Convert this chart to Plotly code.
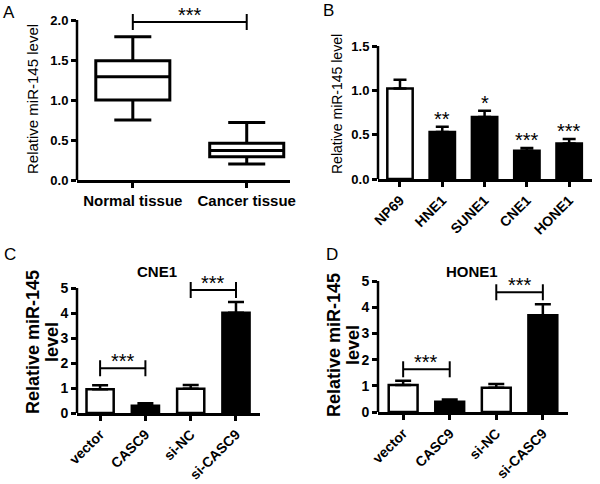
import plotly.graph_objects as go

W, H = 600, 484
FONT = "Liberation Sans, Arial, Helvetica, sans-serif"

# ---------------- Data ----------------
# Panel A (box plot)
a_cats = ["Normal tissue", "Cancer tissue"]
a_lowerfence = [0.75, 0.20]
a_q1 = [1.00, 0.29]
a_median = [1.29, 0.37]
a_q3 = [1.49, 0.46]
a_upperfence = [1.79, 0.72]
a_brackets = [(0, 1, 1.975, "***")]
a_yticks = [0.0, 0.5, 1.0, 1.5, 2.0]
a_yticklabels = ["0.0", "0.5", "1.0", "1.5", "2.0"]

# Panel B
b_cats = ["NP69", "HNE1", "SUNE1", "CNE1", "HONE1"]
b_vals = [1.02, 0.53, 0.70, 0.32, 0.40]
b_errtop = [1.12, 0.59, 0.77, 0.35, 0.45]
b_stars = ["", "**", "*", "***", "***"]
b_fill = ["white", "black", "black", "black", "black"]
b_yticks = [0.0, 0.5, 1.0, 1.5]
b_yticklabels = ["0.0", "0.5", "1.0", "1.5"]

# Panels C and D
cd_cats = ["vector", "CASC9", "si-NC", "si-CASC9"]
cd_fill = ["white", "black", "white", "black"]
cd_yticks = [0, 1, 2, 3, 4, 5]
c_vals = [0.95, 0.29, 0.97, 4.01]
c_errtop = [1.11, 0.39, 1.12, 4.44]
c_brackets = [(0, 1, 1.79, "***"), (2, 3, 4.92, "***")]
d_vals = [1.03, 0.39, 0.93, 3.69]
d_errtop = [1.19, 0.48, 1.07, 4.11]
d_brackets = [(0, 1, 1.63, "***"), (2, 3, 4.57, "***")]

# ---------------- Layout geometry (pixels) ----------------
panels = {
    "A": dict(x0=77, x1=290, y0=180, yt=20, top=2.0, ytop=4, xr=[-0.49, 1.38]),
    "B": dict(x0=378, x1=592, y0=179, yt=46, top=1.5, ytop=40, xr=[-0.52, 4.54]),
    "C": dict(x0=77, x1=260, y0=413, yt=288, top=5.0, ytop=272, xr=[-0.51, 3.53]),
    "D": dict(x0=378, x1=568, y0=412, yt=281, top=5.0, ytop=272, xr=[-0.54, 3.54]),
}
for p in panels.values():
    p["ppu"] = (p["y0"] - p["yt"]) / p["top"]
    p["yr"] = [0, (p["y0"] - p["ytop"]) / p["ppu"]]
    p["xdom"] = [p["x0"] / W, p["x1"] / W]
    p["ydom"] = [1 - p["y0"] / H, 1 - p["ytop"] / H]

LW = 2.5
fig = go.Figure()

# Panel A
fig.add_trace(go.Box(
    x=a_cats, q1=a_q1, median=a_median, q3=a_q3,
    lowerfence=a_lowerfence, upperfence=a_upperfence,
    width=0.65, whiskerwidth=0.5, boxpoints=False,
    line=dict(color="black", width=3), fillcolor="white",
    xaxis="x", yaxis="y", hoverinfo="skip"))

def bar_trace(cats, vals, errtop, fills, width, capw, xa, ya):
    return go.Bar(
        x=cats, y=vals, width=width,
        marker=dict(color=fills, line=dict(color="black", width=LW)),
        error_y=dict(type="data", symmetric=False,
                     array=[e - v for e, v in zip(errtop, vals)],
                     arrayminus=[0] * len(vals),
                     color="black", thickness=LW, width=capw),
        xaxis=xa, yaxis=ya, hoverinfo="skip")

fig.add_trace(bar_trace(b_cats, b_vals, b_errtop, b_fill, 0.60, 6.5, "x2", "y2"))
fig.add_trace(bar_trace(cd_cats, c_vals, c_errtop, cd_fill, 0.60, 8, "x3", "y3"))
fig.add_trace(bar_trace(cd_cats, d_vals, d_errtop, cd_fill, 0.62, 8, "x4", "y4"))

axis_ids = {"A": ("x", "y"), "B": ("x2", "y2"), "C": ("x3", "y3"), "D": ("x4", "y4")}
ytick_info = {
    "A": (a_yticks, a_yticklabels, 13),
    "B": (b_yticks, b_yticklabels, 13),
    "C": (cd_yticks, [str(v) for v in cd_yticks], 14),
    "D": (cd_yticks, [str(v) for v in cd_yticks], 14),
}
xtick_font = {"A": 15, "B": 14, "C": 14, "D": 14}
xtick_angle = {"A": 0, "B": -45, "C": -45, "D": -45}

layout_axes = {}
shapes = []
annotations = []
for key, (xa, ya) in axis_ids.items():
    p = panels[key]
    xname = "xaxis" + xa[1:]
    yname = "yaxis" + ya[1:]
    tv, tt, tfs = ytick_info[key]
    layout_axes[xname] = dict(
        domain=p["xdom"], anchor=ya, type="category", range=p["xr"],
        showline=True, linewidth=LW, linecolor="black", automargin=False,
        ticks="outside", ticklen=5, tickwidth=LW, tickcolor="black",
        showgrid=False, zeroline=False, tickangle=xtick_angle[key],
        tickfont=dict(family=FONT, size=xtick_font[key], color="black", weight="bold"),
        fixedrange=True)
    layout_axes[yname] = dict(
        domain=p["ydom"], anchor=xa, range=p["yr"], automargin=False,
        showline=False, ticks="outside", ticklen=5, tickwidth=LW, tickcolor="black",
        tickvals=tv, ticktext=tt, showgrid=False, zeroline=False,
        tickfont=dict(family=FONT, size=tfs, color="black", weight="bold"),
        fixedrange=True)
    shapes.append(dict(type="line", xref=xa + " domain", yref=ya,
                       x0=0, x1=0, y0=0, y1=tv[-1],
                       line=dict(color="black", width=LW)))

def add_brackets(brackets, key, xa, ya):
    p = panels[key]
    half = 8 / p["ppu"]
    for i0, i1, h, txt in brackets:
        shapes.append(dict(type="line", xref=xa, yref=ya, x0=i0, x1=i1, y0=h, y1=h,
                           line=dict(color="black", width=2)))
        for xi in (i0, i1):
            shapes.append(dict(type="line", xref=xa, yref=ya, x0=xi, x1=xi,
                               y0=h - half, y1=h + half,
                               line=dict(color="black", width=2)))
        annotations.append(dict(x=(i0 + i1) / 2, y=h, xref=xa, yref=ya, text=txt,
                                showarrow=False, yanchor="bottom", yshift=-6,
                                font=dict(family=FONT, size=20, color="black")))

add_brackets(a_brackets, "A", "x", "y")
add_brackets(c_brackets, "C", "x3", "y3")
add_brackets(d_brackets, "D", "x4", "y4")

for i, (s, e) in enumerate(zip(b_stars, b_errtop)):
    if s:
        annotations.append(dict(x=i, y=e, xref="x2", yref="y2", text=s, showarrow=False,
                                yanchor="bottom", yshift=-5,
                                font=dict(family=FONT, size=20, color="black")))

def paper_text(text, xpx, ypx, size, bold=False, angle=0):
    annotations.append(dict(x=xpx / W, y=1 - ypx / H, xref="paper", yref="paper",
                            text=text, showarrow=False, textangle=angle, align="center",
                            xanchor="center", yanchor="middle",
                            font=dict(family=FONT, size=size, color="black",
                                      weight="bold" if bold else "normal")))

# Panel letters
paper_text("A", 9, 12, 17)
paper_text("B", 328, 10, 17)
paper_text("C", 10, 255, 17)
paper_text("D", 332, 255, 17)
# Y titles
paper_text("Relative miR-145 level", 32, 99, 15, angle=-90)
paper_text("Relative miR-145 level", 337, 104, 14, angle=-90)
paper_text("Relative miR-145", 33, 342, 18, bold=True, angle=-90)
paper_text("level", 52, 342, 18, bold=True, angle=-90)
paper_text("Relative miR-145", 334, 345, 18, bold=True, angle=-90)
paper_text("level", 353, 345, 18, bold=True, angle=-90)
# Panel titles
paper_text("CNE1", 157, 271, 15, bold=True)
paper_text("HONE1", 472, 271, 15, bold=True)

fig.update_layout(
    template="none",
    width=W, height=H, margin=dict(l=0, r=0, t=0, b=0, autoexpand=False),
    paper_bgcolor="white", plot_bgcolor="white", showlegend=False,
    font=dict(family=FONT, color="black"),
    shapes=shapes, annotations=annotations, bargap=0.3,
    **layout_axes)

fig.write_html("out.html", config={"displayModeBar": False},
               post_script="document.body.style.margin='0';document.body.style.padding='0';")
